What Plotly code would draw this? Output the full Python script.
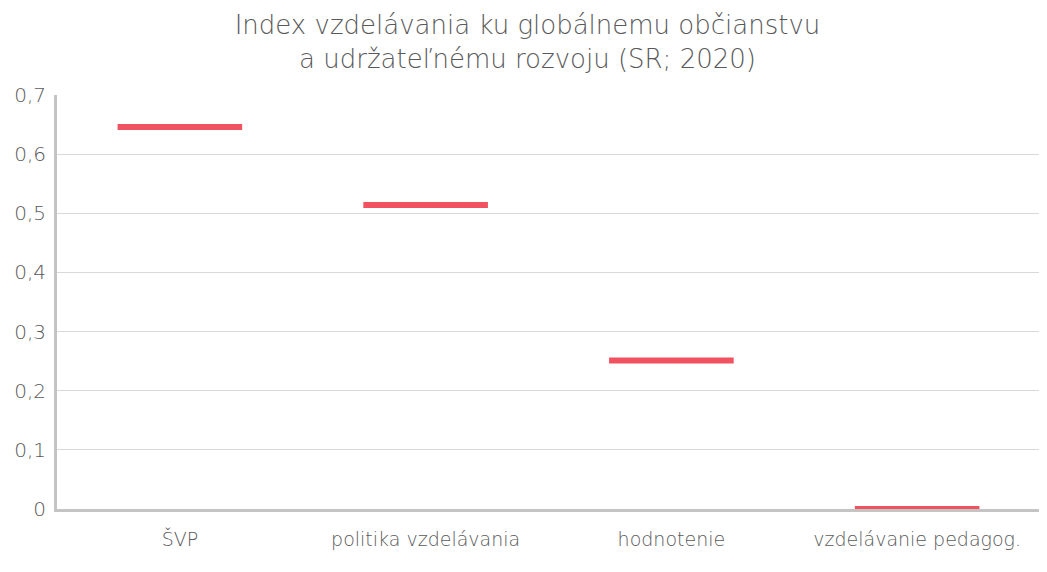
import plotly.graph_objects as go

categories = ["ŠVP", "politika vzdelávania", "hodnotenie", "vzdelávanie pedagog."]
values = [0.646, 0.514, 0.251, 0.0]
y_ticks = [0, 0.1, 0.2, 0.3, 0.4, 0.5, 0.6, 0.7]

red = "#F0525F"
gray_text = "#595959"
font_family = "DejaVu Sans, sans-serif"

fig = go.Figure()
fig.add_trace(go.Scatter(
    x=categories,
    y=values,
    mode="markers",
    marker=dict(symbol="line-ew", size=89, color=red,
                line=dict(color=red, width=6)),
    cliponaxis=False,
    hoverinfo="x+y",
    showlegend=False,
))

# page body has an 8px default margin; size/margins compensate for it
fig.update_layout(
    width=1039,
    height=564,
    margin=dict(l=49, r=7, t=87, b=63, autoexpand=False),
    paper_bgcolor="white",
    plot_bgcolor="white",
    separators=", ",
    title=dict(
        text="Index vzdelávania ku globálnemu občianstvu<br>a udržateľnému rozvoju (SR; 2020)",
        x=0.5, xanchor="center", y=0.954, yanchor="middle",
        font=dict(family=font_family, size=26, color=gray_text, weight=200),
    ),
    font=dict(family=font_family, color=gray_text, weight=200),
    xaxis=dict(
        type="category",
        range=[-0.5, len(categories) - 0.5],
        showline=True, linecolor="#C4C4C4", linewidth=3,
        showgrid=False, ticks="",
        tickfont=dict(size=19, color=gray_text),
        ticklabelstandoff=11,
        layer="above traces",
        automargin=False,
    ),
    yaxis=dict(
        range=[0, 0.7],
        tickvals=y_ticks,
        showline=True, linecolor="#C4C4C4", linewidth=3,
        showgrid=True, gridcolor="#D9D9D9", gridwidth=1,
        zeroline=False,
        ticks="", ticklen=0,
        tickfont=dict(size=20, color=gray_text),
        ticklabelstandoff=4,
        automargin=False,
    ),
)

fig.write_html("out.html")
